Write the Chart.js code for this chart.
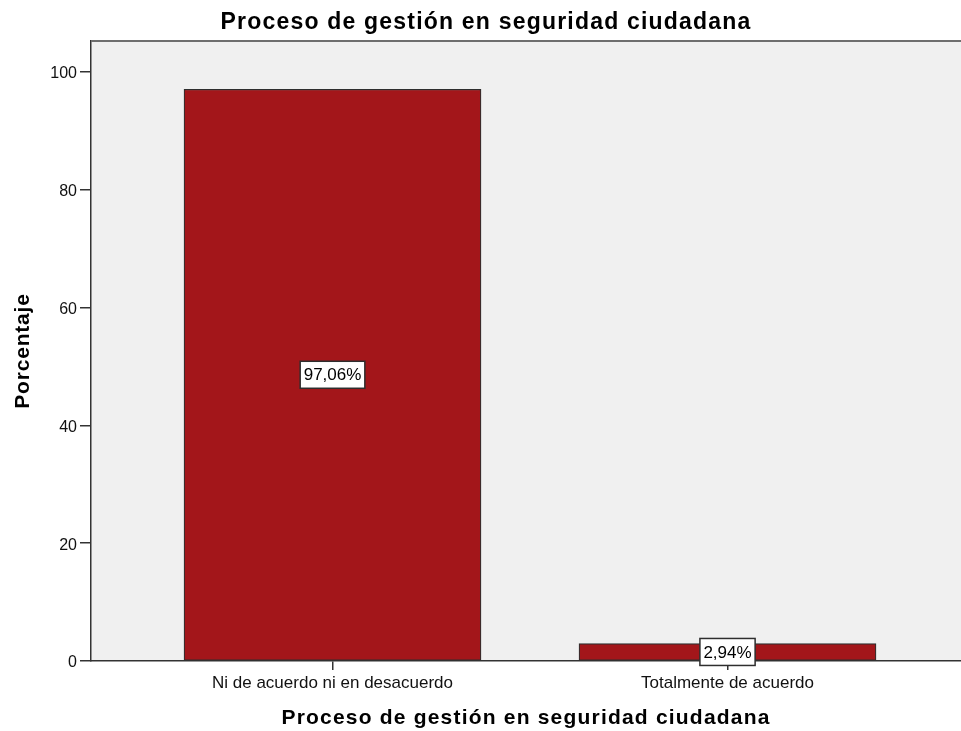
<!DOCTYPE html>
<html>
<head>
<meta charset="utf-8">
<script src="https://cdn.jsdelivr.net/npm/chart.js@4"></script>
<style>
  html, body { margin: 0; padding: 0; background: #fff; overflow: hidden; }
  #wrap { width: 961px; height: 731px; }
</style>
</head>
<body>
<div id="wrap"><canvas id="chart" width="961" height="731"></canvas></div>
<script>
// data
const categories = ["Ni de acuerdo ni en desacuerdo", "Totalmente de acuerdo"];
const percentages = [97.06, 2.94];
const yTicks = [0, 20, 40, 60, 80, 100];
const chartTitle = "Proceso de gestión en seguridad ciudadana";
const xTitle = "Proceso de gestión en seguridad ciudadana";
const yTitle = "Porcentaje";

const FONT = '"Liberation Sans", Arial, sans-serif';

// background of the plot area + frame line on top
const plotFrame = {
    id: "plotFrame",
    beforeDraw(chart) {
        const { ctx, chartArea: a } = chart;
        ctx.save();
        ctx.fillStyle = "#f0f0f0";
        ctx.fillRect(a.left, a.top, a.right - a.left, a.bottom - a.top);
        ctx.restore();
    },
    afterDraw(chart) {
        const { ctx, chartArea: a } = chart;
        ctx.save();
        ctx.strokeStyle = "#6e6e6e";
        ctx.lineWidth = 2;
        ctx.beginPath();
        ctx.moveTo(a.left, a.top);
        ctx.lineTo(a.right, a.top);
        ctx.stroke();
        ctx.restore();
    }
};

// boxed percent labels in the middle of each bar
const barLabels = {
    id: "barLabels",
    afterDatasetsDraw(chart) {
        const { ctx } = chart;
        const meta = chart.getDatasetMeta(0);
        ctx.save();
        ctx.font = "17px " + FONT;
        ctx.textAlign = "center";
        ctx.textBaseline = "middle";
        meta.data.forEach((bar, i) => {
            const txt = percentages[i].toFixed(2).replace(".", ",") + "%";
            const w = ctx.measureText(txt).width + 7;
            const h = 27;
            const cy = (bar.y + bar.base) / 2;
            ctx.fillStyle = "#ffffff";
            ctx.fillRect(bar.x - w / 2, cy - h / 2, w, h);
            ctx.strokeStyle = "#2e2e2e";
            ctx.lineWidth = 1.5;
            ctx.strokeRect(bar.x - w / 2, cy - h / 2, w, h);
            ctx.fillStyle = "#000000";
            ctx.fillText(txt, bar.x, cy + 1);
        });
        ctx.restore();
    }
};

// titles drawn by hand so letter spacing can be matched
const titles = {
    id: "titles",
    afterDraw(chart) {
        const { ctx, chartArea: a } = chart;
        ctx.save();
        ctx.fillStyle = "#000000";
        ctx.textAlign = "center";
        ctx.textBaseline = "alphabetic";

        ctx.font = "bold 23px " + FONT;
        ctx.letterSpacing = "1.2px";
        ctx.fillText(chartTitle, 486, 29);

        ctx.font = "bold 21px " + FONT;
        ctx.letterSpacing = "1.2px";
        ctx.fillText(xTitle, (a.left + a.right) / 2, 724);

        ctx.letterSpacing = "0.8px";
        ctx.translate(29, (a.top + a.bottom) / 2);
        ctx.rotate(-Math.PI / 2);
        ctx.fillText(yTitle, 0, 0);
        ctx.restore();
    }
};

new Chart(document.getElementById("chart"), {
    type: "bar",
    data: {
        datasets: [{
            data: percentages.map((v, i) => ({ x: i, y: v })),
            backgroundColor: "#a3161a",
            borderColor: "#2e2e2e",
            borderWidth: 1.2,
            borderSkipped: false,
            barThickness: 297
        }]
    },
    options: {
        responsive: false,
        animation: false,
        layout: { padding: { top: 41, left: 0, right: 0, bottom: 0 } },
        plugins: {
            legend: { display: false },
            tooltip: { enabled: false }
        },
        scales: {
            x: {
                type: "linear",
                offset: false,
                min: -0.6114,
                max: 1.5911,
                afterFit: s => { s.height = 70; },
                afterBuildTicks: s => { s.ticks = categories.map((_, i) => ({ value: i })); },
                border: { color: "#333333", width: 1.5 },
                grid: { offset: false, drawOnChartArea: false, drawTicks: true, tickLength: 9, color: "#333333", lineWidth: 1.5 },
                ticks: {
                    autoSkip: false,
                    maxRotation: 0,
                    padding: 3,
                    color: "#111111",
                    font: { family: FONT, size: 17 },
                    callback: v => categories[v] ?? ""
                }
            },
            y: {
                min: 0,
                max: 105.26,
                afterFit: s => { s.width = 91; },
                afterBuildTicks: s => { s.ticks = yTicks.map(v => ({ value: v })); },
                border: { color: "#333333", width: 1.5 },
                grid: { drawOnChartArea: false, drawTicks: true, tickLength: 11, color: "#333333", lineWidth: 1.5 },
                ticks: {
                    padding: 3,
                    labelOffset: 2,
                    color: "#111111",
                    font: { family: FONT, size: 16 }
                }
            }
        }
    },
    plugins: [plotFrame, barLabels, titles]
});
</script>
</body>
</html>
